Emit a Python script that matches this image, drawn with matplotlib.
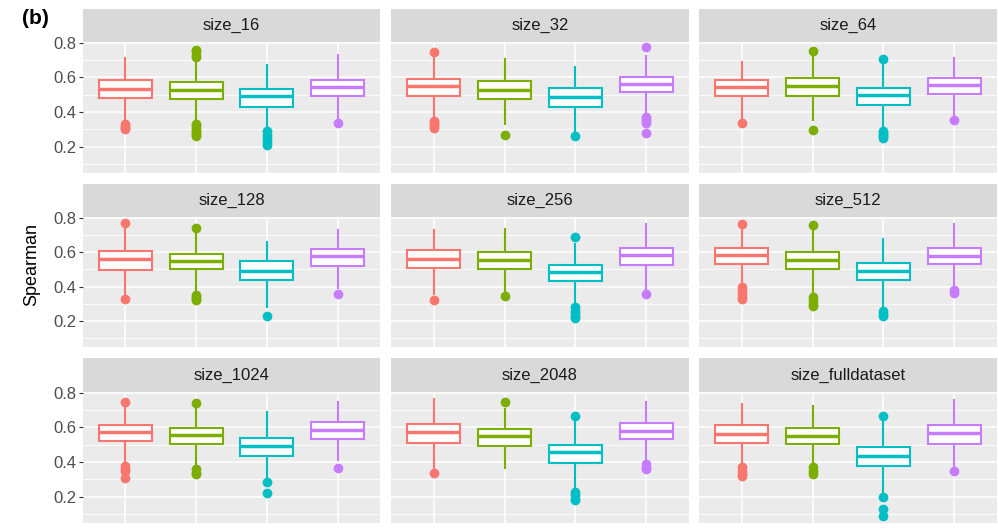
import matplotlib
matplotlib.use("Agg")
import matplotlib.pyplot as plt
from matplotlib.ticker import MultipleLocator

plt.rcParams['font.family'] = ['Liberation Sans', 'DejaVu Sans']

panels = ['size_16', 'size_32', 'size_64',
          'size_128', 'size_256', 'size_512',
          'size_1024', 'size_2048', 'size_fulldataset']
groups = ['g1', 'g2', 'g3', 'g4']
colors = ['#F8766D', '#7CAE00', '#00BFC4', '#C77CFF']

# per panel, per group
whislo = [[0.352, 0.346, 0.308, 0.365], [0.375, 0.333, 0.280, 0.394], [0.365, 0.356, 0.300, 0.375],
          [0.344, 0.373, 0.283, 0.392], [0.354, 0.367, 0.296, 0.386], [0.411, 0.359, 0.287, 0.402],
          [0.404, 0.379, 0.312, 0.412], [0.360, 0.365, 0.244, 0.404], [0.388, 0.388, 0.225, 0.379]]
q1 = [[0.484, 0.477, 0.432, 0.490], [0.495, 0.475, 0.432, 0.515], [0.490, 0.495, 0.442, 0.505],
      [0.497, 0.501, 0.440, 0.522], [0.505, 0.501, 0.430, 0.526], [0.530, 0.501, 0.436, 0.530],
      [0.523, 0.502, 0.437, 0.533], [0.510, 0.494, 0.394, 0.531], [0.512, 0.504, 0.377, 0.504]]
med = [[0.534, 0.528, 0.495, 0.545], [0.551, 0.528, 0.486, 0.563], [0.544, 0.551, 0.500, 0.555],
       [0.559, 0.551, 0.493, 0.578], [0.561, 0.555, 0.482, 0.584], [0.582, 0.555, 0.488, 0.580],
       [0.575, 0.554, 0.494, 0.585], [0.575, 0.552, 0.456, 0.577], [0.562, 0.552, 0.437, 0.567]]
q3 = [[0.584, 0.574, 0.532, 0.586], [0.593, 0.580, 0.538, 0.605], [0.586, 0.595, 0.541, 0.595],
      [0.605, 0.589, 0.551, 0.618], [0.612, 0.603, 0.526, 0.624], [0.622, 0.601, 0.539, 0.624],
      [0.615, 0.596, 0.538, 0.629], [0.617, 0.590, 0.500, 0.623], [0.615, 0.596, 0.485, 0.612]]
whishi = [[0.710, 0.700, 0.672, 0.729], [0.720, 0.705, 0.662, 0.724], [0.690, 0.720, 0.672, 0.710],
          [0.746, 0.718, 0.656, 0.731], [0.731, 0.737, 0.647, 0.762], [0.737, 0.727, 0.674, 0.762],
          [0.725, 0.715, 0.690, 0.744], [0.763, 0.706, 0.629, 0.744], [0.735, 0.725, 0.629, 0.758]]
outliers = [
    [[0.33, 0.32, 0.31, 0.30], [0.76, 0.75, 0.73, 0.72, 0.33, 0.32, 0.30, 0.29, 0.28, 0.27, 0.26],
     [0.29, 0.27, 0.25, 0.23, 0.21], [0.34]],
    [[0.748, 0.35, 0.34, 0.33, 0.32, 0.31], [0.27], [0.26], [0.774, 0.37, 0.36, 0.35, 0.34, 0.279]],
    [[0.34], [0.754, 0.298], [0.705, 0.29, 0.28, 0.27, 0.26, 0.25], [0.352]],
    [[0.771, 0.325], [0.743, 0.35, 0.34, 0.33, 0.32], [0.229], [0.359]],
    [[0.321], [0.344], [0.689, 0.28, 0.26, 0.245, 0.23, 0.215], [0.357]],
    [[0.766, 0.40, 0.38, 0.36, 0.34, 0.33], [0.756, 0.34, 0.32, 0.30, 0.29], [0.26, 0.24, 0.23], [0.38, 0.36]],
    [[0.748, 0.38, 0.36, 0.35, 0.31], [0.74, 0.36, 0.34, 0.33], [0.287, 0.221], [0.365]],
    [[0.337], [0.744], [0.663, 0.23, 0.21, 0.19, 0.18], [0.39, 0.37, 0.36]],
    [[0.37, 0.35, 0.33, 0.32], [0.37, 0.35, 0.33], [0.667, 0.196, 0.129, 0.087], [0.35]],
]

W, H = 998, 529
fig = plt.figure(figsize=(W / 100, H / 100), dpi=100)

col_x = [(83, 380), (391, 689), (699, 997)]
row_y = [(9, 42, 173), (184, 217, 347), (358, 392, 523)]

for i, name in enumerate(panels):
    r, c = divmod(i, 3)
    x0, x1 = col_x[c]
    st, pt, pb = row_y[r]
    ax = fig.add_axes([x0 / W, 1 - pb / H, (x1 - x0) / W, (pb - pt) / H])
    sax = fig.add_axes([x0 / W, 1 - pt / H, (x1 - x0) / W, (pt - st) / H])
    sax.set_facecolor('#D9D9D9')
    sax.set_xticks([]); sax.set_yticks([])
    for s in sax.spines.values():
        s.set_visible(False)
    sax.text(0.5, 0.5, name, ha='center', va='center', fontsize=12, color='#1A1A1A',
             transform=sax.transAxes)

    ax.set_facecolor('#EBEBEB')
    for s in ax.spines.values():
        s.set_visible(False)
    ax.set_axisbelow(True)
    ax.yaxis.set_major_locator(MultipleLocator(0.2))
    ax.yaxis.set_minor_locator(MultipleLocator(0.1))
    ax.grid(which='major', color='white', lw=1.1)
    ax.grid(which='minor', axis='y', color='white', lw=0.55)
    ax.set_ylim(0.049, 0.804)
    ax.tick_params(axis='x', length=0)
    ax.tick_params(axis='y', which='minor', length=0)
    if c == 0:
        ax.tick_params(axis='y', which='major', length=3, color='#333333', width=0.8,
                       labelsize=12, labelcolor='#4D4D4D', pad=2)
    else:
        ax.tick_params(axis='y', which='major', length=0, labelleft=False)

    for g in range(4):
        stats = [dict(med=med[i][g], q1=q1[i][g], q3=q3[i][g],
                      whislo=whislo[i][g], whishi=whishi[i][g], fliers=outliers[i][g])]
        col = colors[g]
        ax.bxp(stats, positions=[g + 1], widths=0.75, showcaps=False, patch_artist=True,
               boxprops=dict(facecolor='white', edgecolor=col, lw=1.5),
               medianprops=dict(color=col, lw=2.5),
               whiskerprops=dict(color=col, lw=1.5),
               flierprops=dict(marker='o', markerfacecolor=col, markeredgecolor=col,
                               markersize=6, linestyle='none'))
    ax.set_xlim(0.4, 4.6)
    ax.set_xticks(range(1, 5))
    ax.set_xticklabels([])

fig.text(32 / W, 1 - 265 / H, 'Spearman', rotation=90, ha='center', va='center',
         fontsize=13, color='black')
fig.text(22 / W, 1 - 18 / H, '(b)', ha='left', va='center', fontsize=15,
         fontweight='bold', color='black')

fig.savefig('out.png', dpi=100)
